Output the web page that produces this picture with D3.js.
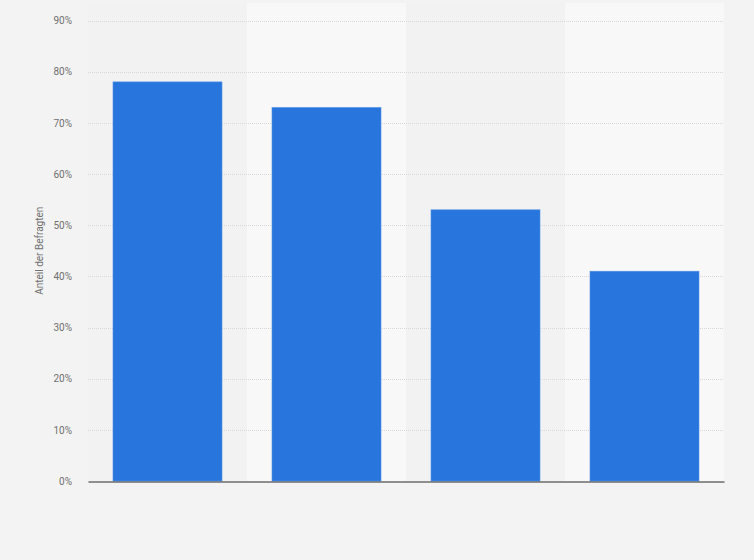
<!DOCTYPE html>
<html lang="de">
<head>
	<meta charset="UTF-8">
	<title>Anteil der Befragten</title>
	<style>
		body{ margin:0; background:#f3f3f3; }
		.axis text{ font-family: Roboto, "Liberation Sans", sans-serif; font-size: 10px; fill:#707070; }
		.grid line{ stroke:#d8d8d8; stroke-dasharray:1,1; }
	</style>
</head>
<body>
	<script src="https://d3js.org/d3.v7.min.js"></script>
	<script>
		var width = 754, height = 560;
		var categories = ['A', 'B', 'C', 'D'];   // Kategorien (keine Beschriftung sichtbar)
		var values = [78, 73, 53, 41];           // Anteil in %
		var yTicks = [0, 10, 20, 30, 40, 50, 60, 70, 80, 90];
		var yLabel = 'Anteil der Befragten';

		var plotLeft = 88, plotRight = 724, plotTop = 20.5, plotBottom = 481;

		var svg = d3.select('body').append('svg')
			.attr('width', width)
			.attr('height', height);

		svg.append('rect').attr('width', width).attr('height', height).attr('fill', '#f3f3f3');

		var x = d3.scaleBand().domain(categories).range([plotLeft, plotRight])
			.paddingInner(50 / 159).paddingOuter(25 / 159);
		var y = d3.scaleLinear().domain([0, 90]).range([plotBottom, plotTop]);

		// abwechselnde Hintergrundstreifen
		svg.selectAll('rect.band')
			.data(categories)
			.enter().append('rect')
			.attr('class', 'band')
			.attr('x', function(d){ return x(d) - x.step() * x.paddingOuter(); })
			.attr('y', 3)
			.attr('width', x.step())
			.attr('height', plotBottom - 3)
			.attr('fill', function(d, i){ return i % 2 ? '#f8f8f8' : '#f2f2f2'; });

		// Gitterlinien
		svg.append('g').attr('class', 'grid')
			.selectAll('line').data(yTicks.slice(1)).enter().append('line')
			.attr('x1', plotLeft).attr('x2', plotRight)
			.attr('y1', function(d){ return Math.round(y(d)) + 0.5; })
			.attr('y2', function(d){ return Math.round(y(d)) + 0.5; });

		// Balken
		svg.selectAll('rect.bar')
			.data(values)
			.enter().append('rect')
			.attr('class', 'bar')
			.attr('x', function(d, i){ return x(categories[i]); })
			.attr('y', function(d){ return y(d); })
			.attr('width', x.bandwidth())
			.attr('height', function(d){ return plotBottom - y(d); })
			.attr('fill', '#2876dd')
			.attr('stroke', '#4f8fe6')
			.attr('stroke-width', 0.6);

		// y-Achse
		var yAxis = d3.axisLeft(y).tickValues(yTicks)
			.tickFormat(function(d){ return d + '%'; })
			.tickSize(0).tickPadding(16);
		var gy = svg.append('g').attr('class', 'axis')
			.attr('transform', 'translate(' + plotLeft + ',0)')
			.call(yAxis);
		gy.select('.domain').remove();

		// x-Achse (Grundlinie)
		var xAxis = d3.axisBottom(x).tickSize(0).tickFormat('');
		var gx = svg.append('g').attr('class', 'axis')
			.attr('transform', 'translate(0,' + (plotBottom + 0.5) + ')')
			.call(xAxis);
		gx.select('.domain').attr('stroke', '#2b2b2b').attr('stroke-width', 1.2);

		svg.append('text')
			.attr('transform', 'translate(43,' + ((plotTop + plotBottom) / 2) + ') rotate(-90)')
			.attr('text-anchor', 'middle')
			.attr('font-family', 'Roboto, "Liberation Sans", sans-serif')
			.attr('font-size', 10)
			.attr('fill', '#707070')
			.text(yLabel);
	</script>
</body>
</html>
